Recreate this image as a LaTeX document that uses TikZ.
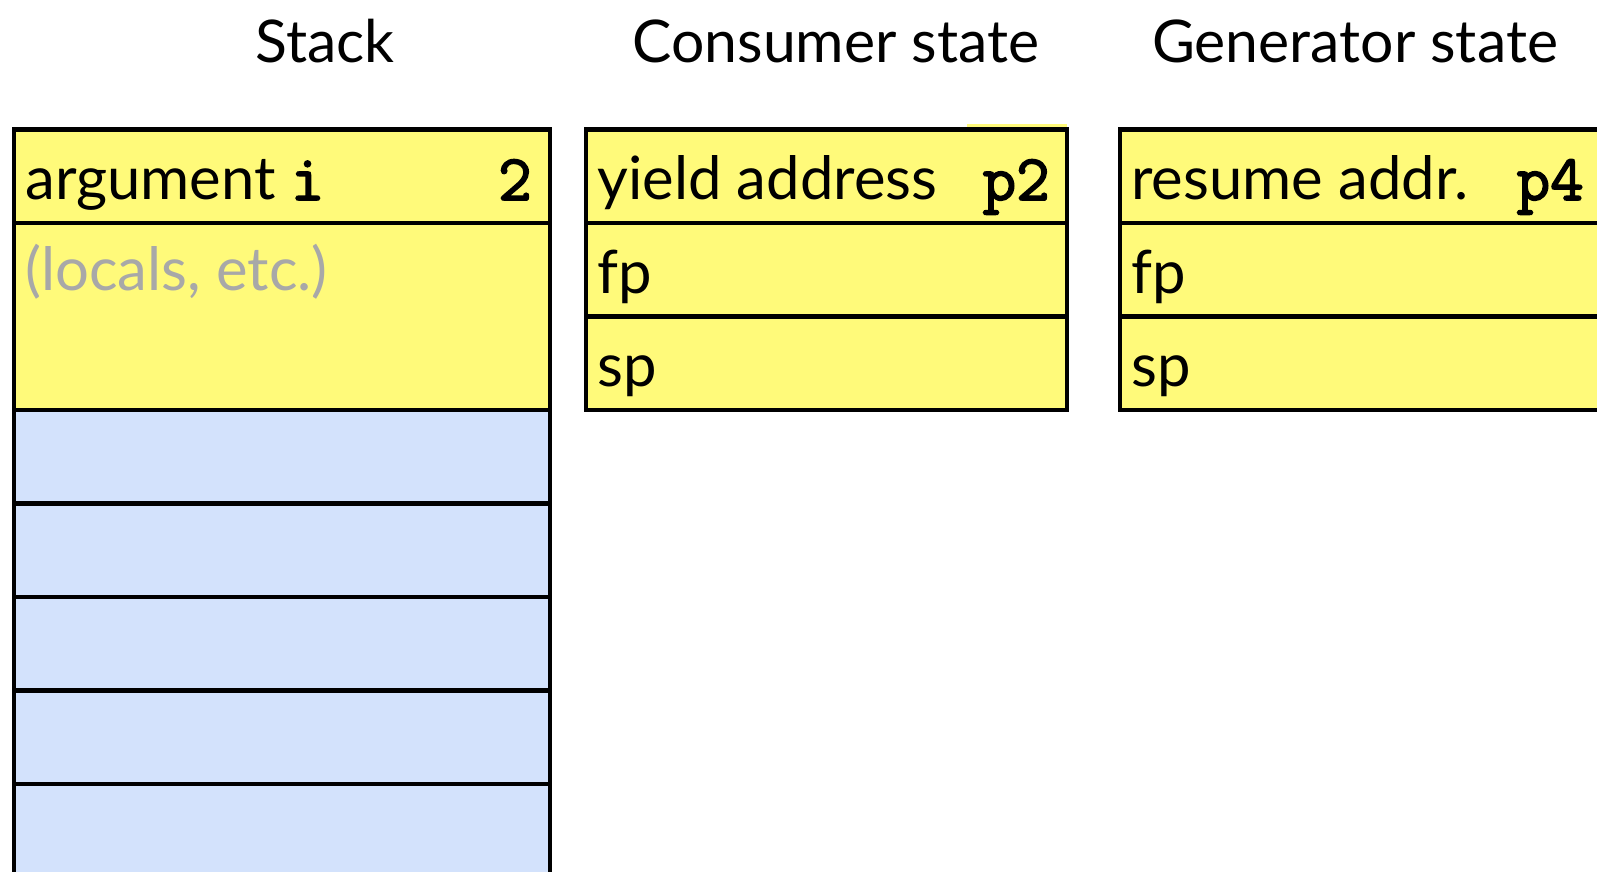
\documentclass[tikz,border=0pt]{standalone}
\usepackage{fontspec}
\setmainfont{Lato}
\setmonofont[FakeBold = 2.5]{Latin Modern Mono}
\usepackage{xcolor}
\usepackage{tikz}
\usetikzlibrary{calc}
\usetikzlibrary{positioning}

\definecolor{cellyellow}{RGB}{255,250,122}
\definecolor{cellblue}{RGB}{211,226,252}
\definecolor{notegray}{RGB}{168,168,168}
\newcommand{\codefont}[1]{{\ttfamily #1}}

\begin{document}
\begin{tikzpicture}
[
	Cell/.style			= {draw = black, line width = 0.09cm, rectangle, inner sep = 0cm, outer sep = 0cm, minimum height = 1.87cm},
	StackCell/.style	= {Cell, minimum width = 10.72cm},
	StateCell/.style	= {Cell, minimum width = 9.62cm, fill = cellyellow},
	Title/.style		= {font = \fontsize{33.5}{40}\selectfont, inner sep = 0cm, anchor = base},
	Field/.style		= {font = \fontsize{34}{40}\selectfont, inner sep = 0cm, anchor = base west},
	Value/.style		= {font = \fontsize{37}{40}\selectfont\ttfamily, inner sep = 0cm, anchor = base east},
]

	\useasboundingbox (0,0) rectangle (31.94,-17.44);

	% stack
	\node (s1) [StackCell, fill = cellyellow, anchor = north west] at (0.28,-2.59) {};
	\node (s2) [StackCell, fill = cellyellow, below = 0cm of s1, minimum height = 3.74cm] {};
	\node (s3) [StackCell, fill = cellblue, below = 0cm of s2] {};
	\node (s4) [StackCell, fill = cellblue, below = 0cm of s3] {};
	\node (s5) [StackCell, fill = cellblue, below = 0cm of s4] {};
	\node (s6) [StackCell, fill = cellblue, below = 0cm of s5] {};
	\node (s7) [StackCell, fill = cellblue, below = 0cm of s6] {};

	% consumer and generator state
	\fill [cellyellow] ($(s1.north west)+(19.06,0.1)$) rectangle ($(s1.north west)+(21.06,0)$);
	\node (c1) [StateCell, right = 0.72cm of s1] {};
	\node (c2) [StateCell, below = 0cm of c1] {};
	\node (c3) [StateCell, below = 0cm of c2] {};
	%
	\node (g1) [StateCell, right = 1.06cm of c1] {};
	\node (g2) [StateCell, below = 0cm of g1] {};
	\node (g3) [StateCell, below = 0cm of g2] {};

	% headings
	\node (hs) [Title, above = 1.33cm of s1.north, anchor = base, xshift = 0.86cm] {Stack};
	\node (hc) [Title, above = 1.33cm of c1.north, anchor = base, xshift = 0.19cm] {Consumer state};
	\node (hg) [Title, above = 1.33cm of g1.north, anchor = base, xshift = -0.11cm] {Generator state};

	% field names
	\node (f1) [Field, below right = 1.41cm and 0.22cm of s1.north west, anchor = base west] {argument \codefont{\fontsize{37}{40}\selectfont i}};
	\node (f2) [Field, below right = 1.36cm and 0.22cm of s2.north west, anchor = base west, text = notegray] {(locals, etc.)};
	\node (f3) [Field, below right = 1.41cm and 0.22cm of c1.north west, anchor = base west] {yield address};
	\node (f4) [Field, below right = 1.41cm and 0.22cm of c2.north west, anchor = base west] {fp};
	\node (f5) [Field, below right = 1.41cm and 0.22cm of c3.north west, anchor = base west] {sp};
	\node (f6) [Field, below right = 1.41cm and 0.22cm of g1.north west, anchor = base west] {resume addr.};
	\node (f7) [Field, below right = 1.41cm and 0.22cm of g2.north west, anchor = base west] {fp};
	\node (f8) [Field, below right = 1.41cm and 0.22cm of g3.north west, anchor = base west] {sp};

	% values
	\node (v1) [Value, below left = 1.41cm and 0.36cm of s1.north east, anchor = base east] {2};
	\node (v2) [Value, below left = 1.41cm and 0.34cm of c1.north east, anchor = base east] {p2};
	\node (v3) [Value, below left = 1.41cm and 0.34cm of g1.north east, anchor = base east] {p4};

\end{tikzpicture}
\end{document}
